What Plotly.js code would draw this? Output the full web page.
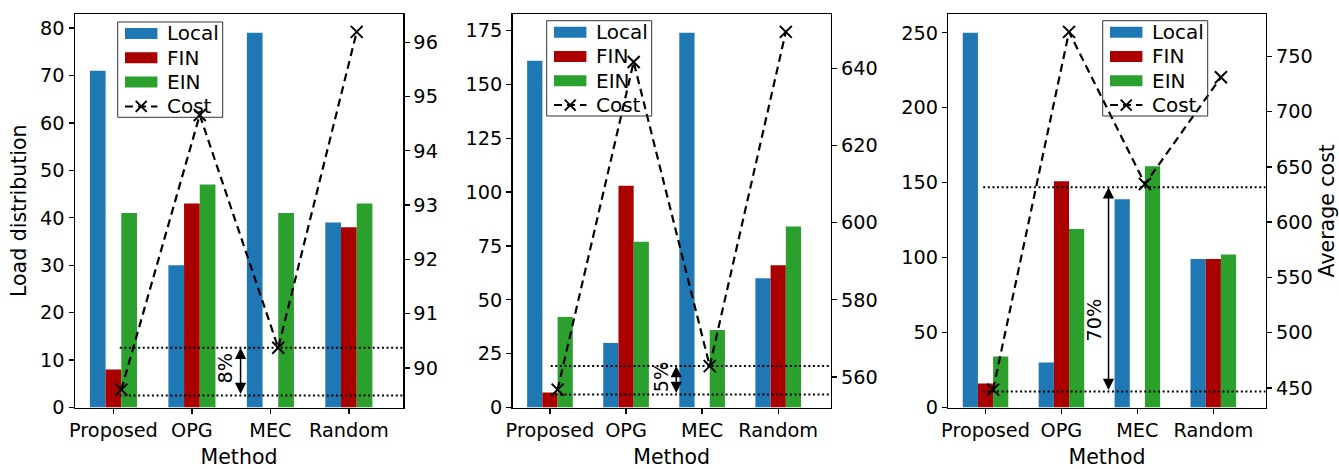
<!DOCTYPE html>
<html>
<head>
<meta charset="utf-8">
<script src="https://cdn.plot.ly/plotly-3.0.1.min.js"></script>
<style>html,body{margin:0;padding:0;background:#fff;}#chart{width:1339px;height:469px;}</style>
</head>
<body>
<div id="chart"></div>
<script>
// ---- data ----
const categories = ['Proposed', 'OPG', 'MEC', 'Random'];
const seriesNames = ['Local', 'FIN', 'EIN'];
const costName = 'Cost';

const local1 = [71, 30, 79, 39];
const fin1   = [8, 43, 0, 38];
const ein1   = [41, 47, 41, 43];
const cost1  = [89.6, 94.66, 90.37, 96.19];

const local2 = [161, 30, 174, 60];
const fin2   = [7, 103, 0, 66];
const ein2   = [42, 77, 36, 84];
const cost2  = [556.7, 641.7, 562.8, 649.5];

const local3 = [250, 30, 139, 99];
const fin3   = [16, 151, 0, 99];
const ein3   = [34, 119, 161, 102];
const cost3  = [448.5, 772.1, 634.5, 731];

// reference levels (on cost axis) and gap labels
const refLow  = [89.49, 555.4, 446.9];
const refHigh = [90.37, 562.8, 631.5];
const gapText = ['8%', '5%', '70%'];

// ---- styling / layout ----
const W = 1339, H = 469;
const FONT = 'DejaVu Sans';
const colors = ['#1f77b4', '#aa0000', '#2ca02c'];
const panelsPx = [[75, 403], [512.7, 830.7], [948.3, 1265.7]];
const yTopPx = 14, yBotPx = 407.5;
const xRange = [-0.49, 3.69];
const costOffset = 0.1;
const leftDticks = [10, 25, 50];
const rightDticks = [1, 20, 50];
const refStartX = [0.08, 0.01, -0.03];
const arrowX = [1.62, 1.66, 1.62];
const labelX = [1.43, 1.47, 1.43];
const labelY = [90.0, 560.1, 511];
const legendPx = [[117.7, 22], [546.7, 20.7], [1102.7, 20.7]];
const TICK_SIZE = 19.3, TITLE_SIZE = 20.5, LEG_SIZE = 20;
const DASH = '8px,5px';

const panels = [
  {bars: [local1, fin1, ein1], cost: cost1},
  {bars: [local2, fin2, ein2], cost: cost2},
  {bars: [local3, fin3, ein3], cost: cost3}
];

const xIdx = categories.map((c, i) => i);
const traces = [];
const layout = {
  width: W, height: H,
  margin: {l: 0, r: 0, t: 0, b: 0},
  paper_bgcolor: '#fff', plot_bgcolor: 'rgba(0,0,0,0)',
  font: {family: FONT, size: TICK_SIZE, color: '#000'},
  barmode: 'group', bargap: 0.4, bargroupgap: 0,
  showlegend: false,
  shapes: [], annotations: []
};

const px2x = v => v / W;
const px2y = v => (H - v) / H;
const yDom = [px2y(yBotPx), px2y(yTopPx)];

function addLegend(lx, ly) {
  const sh = layout.shapes, an = layout.annotations;
  const rowY = [11.5, 35.8, 60.1, 84.4];
  sh.push({type: 'rect', xref: 'paper', yref: 'paper',
    x0: px2x(lx), x1: px2x(lx + 105), y0: px2y(ly + 95.3), y1: px2y(ly),
    line: {color: '#333', width: 1}, fillcolor: 'rgba(0,0,0,0)', layer: 'above'});
  seriesNames.forEach((nm, s) => {
    const cy = ly + rowY[s];
    sh.push({type: 'rect', xref: 'paper', yref: 'paper',
      x0: px2x(lx + 7.3), x1: px2x(lx + 39.7), y0: px2y(cy + 5.5), y1: px2y(cy - 5.5),
      line: {width: 0}, fillcolor: colors[s], layer: 'above'});
    an.push({xref: 'paper', yref: 'paper', x: px2x(lx + 47), y: px2y(cy),
      xanchor: 'left', yanchor: 'middle', text: nm, showarrow: false,
      font: {family: FONT, size: LEG_SIZE, color: '#000'}});
  });
  const cy = ly + rowY[3];
  sh.push({type: 'line', xref: 'paper', yref: 'paper',
    x0: px2x(lx + 7.3), x1: px2x(lx + 39.7), y0: px2y(cy), y1: px2y(cy),
    line: {color: '#000', width: 2, dash: DASH}, layer: 'above'});
  const mx = lx + 23.5, r = 5.5;
  [[-1, -1, 1, 1], [-1, 1, 1, -1]].forEach(d => {
    sh.push({type: 'line', xref: 'paper', yref: 'paper',
      x0: px2x(mx + d[0] * r), y0: px2y(cy + d[1] * r), x1: px2x(mx + d[2] * r), y1: px2y(cy + d[3] * r),
      line: {color: '#000', width: 2}, layer: 'above'});
  });
  an.push({xref: 'paper', yref: 'paper', x: px2x(lx + 47), y: px2y(cy),
    xanchor: 'left', yanchor: 'middle', text: costName, showarrow: false,
    font: {family: FONT, size: LEG_SIZE, color: '#000'}});
}

panels.forEach((p, k) => {
  const n = k + 1;
  const xa = 'x' + (n === 1 ? '' : n);
  const yl = 'y' + (2 * n - 1 === 1 ? '' : 2 * n - 1);
  const yr = 'y' + (2 * n);

  p.bars.forEach((vals, s) => {
    traces.push({
      type: 'bar', x: xIdx, y: vals, name: seriesNames[s],
      xaxis: xa, yaxis: yl,
      marker: {color: colors[s], line: {width: 0}},
      hoverinfo: 'skip'
    });
  });
  traces.push({
    type: 'scatter', mode: 'lines+markers',
    x: xIdx.map(i => i + costOffset), y: p.cost, name: costName,
    xaxis: xa, yaxis: yr,
    line: {color: '#000', width: 2.2, dash: DASH},
    marker: {symbol: 'x-thin', size: 12, line: {color: '#000', width: 2}, color: '#000'},
    hoverinfo: 'skip'
  });

  const maxBar = Math.max(...p.bars.flat());
  const cmin = Math.min(...p.cost), cmax = Math.max(...p.cost);
  const span = cmax - cmin;

  const axCommon = {
    ticks: 'outside', ticklen: 5, tickwidth: 1.3, tickcolor: '#000',
    showline: true, linecolor: '#000', linewidth: 1.5,
    showgrid: false, zeroline: false,
    tickfont: {family: FONT, size: TICK_SIZE, color: '#000'}
  };
  const titleFont = {family: FONT, size: TITLE_SIZE, color: '#000'};

  layout['xaxis' + (n === 1 ? '' : n)] = Object.assign({}, axCommon, {
    domain: [px2x(panelsPx[k][0]), px2x(panelsPx[k][1])],
    anchor: yl, range: xRange, mirror: true,
    tickmode: 'array', tickvals: xIdx, ticktext: categories,
    title: {text: 'Method', font: titleFont, standoff: 13}
  });
  layout['yaxis' + (2 * n - 1 === 1 ? '' : 2 * n - 1)] = Object.assign({}, axCommon, {
    domain: yDom, anchor: xa, side: 'left',
    range: [0, maxBar * 1.05], dtick: leftDticks[k], tick0: 0,
    title: n === 1 ? {text: 'Load distribution', font: titleFont, standoff: 8} : {text: ''}
  });
  layout['yaxis' + (2 * n)] = Object.assign({}, axCommon, {
    overlaying: yl, anchor: xa, side: 'right',
    range: [cmin - 0.05 * span, cmax + 0.05 * span], dtick: rightDticks[k], tick0: 0,
    title: n === 3 ? {text: 'Average cost', font: titleFont, standoff: 8} : {text: ''}
  });

  addLegend(legendPx[k][0], legendPx[k][1]);

  [refLow[k], refHigh[k]].forEach(v => {
    layout.shapes.push({
      type: 'line', xref: xa, yref: yr,
      x0: refStartX[k], x1: xRange[1], y0: v, y1: v,
      line: {color: '#000', width: 2, dash: '2px,2.6px'}
    });
  });

  layout.annotations.push({
    xref: xa, yref: yr, axref: xa, ayref: yr,
    x: arrowX[k], y: refHigh[k], ax: arrowX[k], ay: refLow[k],
    text: '', showarrow: true, arrowside: 'end+start',
    arrowhead: 2, arrowsize: 1.5, arrowwidth: 1.5, arrowcolor: '#000',
    standoff: 0, startstandoff: 0
  });
  layout.annotations.push({
    xref: xa, yref: yr, x: labelX[k], y: labelY[k],
    text: gapText[k], showarrow: false, textangle: -90,
    font: {family: FONT, size: TICK_SIZE, color: '#000'}
  });
});

Plotly.newPlot('chart', traces, layout, {staticPlot: true, displayModeBar: false});
</script>
</body>
</html>
